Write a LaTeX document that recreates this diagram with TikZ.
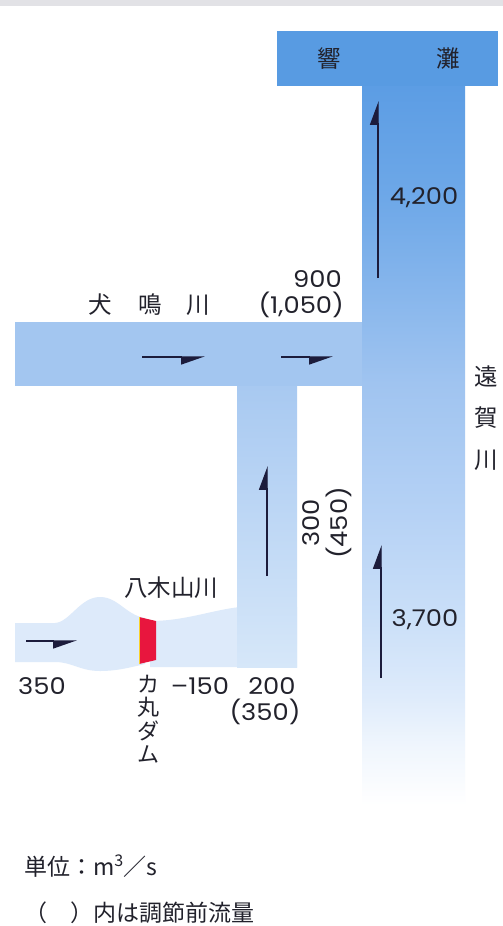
\documentclass[tikz,border=0pt]{standalone}
\usepackage{fontspec}
\newfontfamily\jpfnt{Noto Sans CJK JP}
\newfontfamily\numfnt{Poppins}[FakeStretch=1.12]
\usetikzlibrary{arrows.meta}
\definecolor{seaC}{RGB}{88,155,226}
\definecolor{mcA}{RGB}{92,157,228}
\definecolor{mcB}{RGB}{110,168,232}
\definecolor{mcC}{RGB}{160,196,240}
\definecolor{mcD}{RGB}{182,210,245}
\definecolor{mcE}{RGB}{202,223,248}
\definecolor{mcF}{RGB}{222,235,251}
\definecolor{mcG}{RGB}{240,246,253}
\definecolor{inuC}{RGB}{163,198,240}
\definecolor{tribTop}{RGB}{168,201,241}
\definecolor{tribBot}{RGB}{214,231,249}
\definecolor{yagiC}{RGB}{221,234,250}
\definecolor{damC}{RGB}{232,22,62}
\definecolor{damY}{RGB}{250,210,40}
\definecolor{arrC}{RGB}{28,28,60}
\definecolor{txtC}{RGB}{34,34,44}
\definecolor{stripC}{RGB}{226,226,230}
\pgfdeclareverticalshading{mainriver}{100bp}{color(0bp)=(white); color(25bp)=(white); color(29bp)=(mcG); color(32.6bp)=(mcF); color(38.1bp)=(mcE); color(45bp)=(mcD); color(54.3bp)=(mcC); color(67.1bp)=(mcB); color(75bp)=(mcA); color(100bp)=(mcA)}
\pgfdeclareverticalshading{tribriver}{100bp}{color(0bp)=(tribBot); color(25bp)=(tribBot); color(75bp)=(tribTop); color(100bp)=(tribTop)}
\tikzset{
  flowup/.style={draw=arrC, line width=1.3pt, -{Triangle[harpoon,length=22pt,width=16pt]}},
  flowright/.style={draw=arrC, line width=1.3pt, -{Triangle[harpoon,swap,length=22pt,width=15pt]}},
  jplbl/.style={inner sep=0pt, text=txtC, font=\jpfnt\fontsize{23.5}{26}\selectfont},
  numlbl/.style={inner sep=0pt, text=txtC, font=\numfnt\fontsize{23}{28}\selectfont},
}
\begin{document}
\begin{tikzpicture}[x=1pt,y=-1pt]
\useasboundingbox (0,0) rectangle (503,926);
\fill[white] (0,0) rectangle (503,926);
\fill[stripC] (0,0) rectangle (503,6);
% rivers
\fill[seaC] (277,31) rectangle (498,86);
\shade[shading=mainriver] (362,86) rectangle (465,805);
\fill[inuC] (15,322) rectangle (362,386);
\fill[yagiC] (15,623) -- (55,623) .. controls (70,622) and (80,597) .. (100,597)
  .. controls (118,597) and (126,615) .. (145,618) -- (145,664)
  .. controls (128,668) and (116,671) .. (100,671)
  .. controls (80,671) and (72,662) .. (55,662) -- (15,662) -- cycle;
\fill[yagiC] (150,621) .. controls (185,621) and (212,610) .. (240,607) -- (297,607) -- (297,667) -- (150,667) -- cycle;
\shade[shading=tribriver] (237,386) rectangle (297,667);
% dam
\fill[damC] (139,617) -- (156,621) -- (156,660) -- (139,664) -- cycle;
\draw[damY, line width=1.4pt] (139.7,617) -- (139.7,664);
% flow arrows
\coordinate (a1s) at (378,278); \coordinate (a1e) at (378,101);
\coordinate (a2s) at (142,357); \coordinate (a2e) at (205,357);
\coordinate (a3s) at (281,357); \coordinate (a3e) at (333,357);
\coordinate (a4s) at (267,576); \coordinate (a4e) at (267,466);
\coordinate (a5s) at (381,678); \coordinate (a5e) at (381,545);
\coordinate (a6s) at (26,641);  \coordinate (a6e) at (77,641);
\draw[flowup] (a1s) -- (a1e);
\draw[flowright] (a2s) -- (a2e);
\draw[flowright] (a3s) -- (a3e);
\draw[flowup] (a4s) -- (a4e);
\draw[flowup] (a5s) -- (a5e);
\draw[flowright] (a6s) -- (a6e);
% labels
\node[jplbl] (hibiki) at (329,59) {響};
\node[jplbl] (nada) at (448,59) {灘};
\node[numlbl] (q4200) at (424,198) {4,200};
\node[numlbl, anchor=east] (q900) at (342,279) {900};
\node[numlbl, anchor=east] (q1050) at (344,305) {(1,050)};
\node[jplbl] (inu1) at (100,305) {犬};
\node[jplbl] (inu2) at (150,305) {鳴};
\node[jplbl] (inu3) at (198,305) {川};
\node[jplbl] (onga1) at (486,376) {遠};
\node[jplbl] (onga2) at (486,418) {賀};
\node[jplbl] (onga3) at (486,460) {川};
\node[numlbl, rotate=90, align=center] (q300) at (327,523) {300\\(450)};
\node[numlbl] (q3700) at (425,620) {3,700};
\node[jplbl] (yagi) at (171,588) {八木山川};
\node[numlbl] (q350) at (42,686) {350};
\node[jplbl, align=center, font=\jpfnt\fontsize{22}{23.5}\selectfont] (dam) at (148,719) {カ\\丸\\ダ\\ム};
\node[numlbl] (qm150) at (200,686) {–150};
\node[numlbl] (q200) at (272,686) {200};
\node[numlbl] (q350b) at (265,712) {(350)};
\node[jplbl, anchor=west, font=\jpfnt\fontsize{23}{26}\selectfont] (unit) at (24,866) {単位：m\textsuperscript{3}／s};
\node[jplbl, anchor=west, font=\jpfnt\fontsize{23}{26}\selectfont] (note) at (24,913) {（　）内は調節前流量};
\end{tikzpicture}
\end{document}
